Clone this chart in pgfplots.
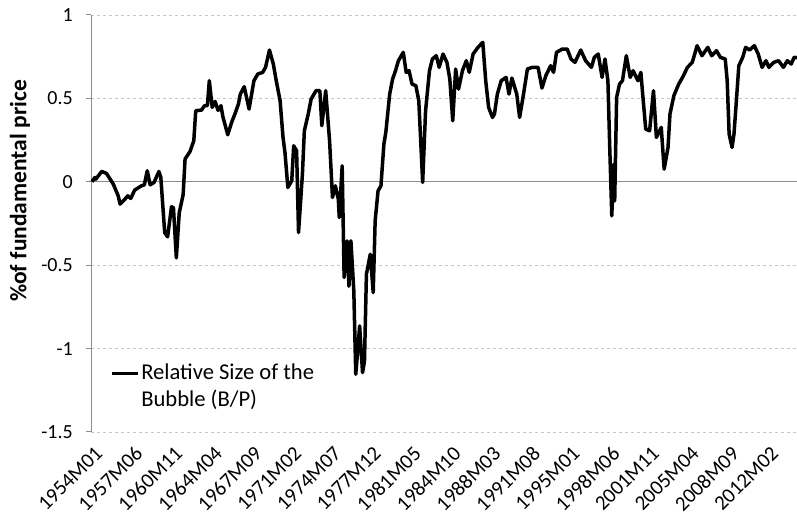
\documentclass[border=0pt]{standalone}
\usepackage{pgfplots}
\pgfplotsset{compat=1.18}
\usepackage{fontspec}
\setmainfont{Carlito}
\begin{document}
\begin{tikzpicture}
\begin{axis}[
  scale only axis,
  width=706pt, height=417pt,
  at={(91pt,92pt)}, anchor=south west,
  xmin=-1, xmax=727,
  ymin=-1.5, ymax=1,
  axis y line*=left,
  axis x line*=bottom,
  x axis line style={draw=none},
  y axis line style={draw=gray!90, line width=1pt},
  xtick={0,41,82,123,164,205,246,287,328,369,410,451,492,533,574,615,656,697},
  xticklabels={1954M01,1957M06,1960M11,1964M04,1967M09,1971M02,1974M07,1977M12,1981M05,1984M10,1988M03,1991M08,1995M01,1998M06,2001M11,2005M04,2008M09,2012M02},
  xtick style={draw=none},
  xticklabel style={rotate=45, anchor=north east, font=\fontsize{20.8}{24}\selectfont, inner sep=1pt, yshift=-6pt, xshift=-3pt},
  ytick={-1.5,-1,-0.5,0.5,1},
  yticklabels={-1.5,-1,-0.5,0.5,1},
  extra y ticks={0},
  extra y tick labels={0},
  extra y tick style={grid=major, major grid style={solid, draw=gray!90, line width=1pt}},
  ytick style={draw=gray!90, line width=1pt},
  tick align=outside,
  major tick length=5pt,
  yticklabel style={font=\fontsize{20}{24}\selectfont, inner sep=1pt, xshift=-12pt},
  ymajorgrids,
  major grid style={dashed, draw=gray!45, line width=0.8pt, dash pattern=on 3pt off 3pt},
  ylabel={\bfseries \%of fundamental price},
  ylabel style={at={(axis description cs:0,0.578)}, anchor=center, yshift=71pt, font=\fontsize{23.5}{28}\selectfont},
  legend style={draw=none, fill=none, at={(axis description cs:0.027,0.168)}, anchor=north west,
    font=\fontsize{22.6}{27}\selectfont, cells={align=left}, inner sep=0pt},
  legend image code/.code={\draw[black, line width=3pt] (0pt,13pt) -- (26pt,13pt);},
  clip=false,
]
\addplot[black, line width=3.5pt, line join=round] coordinates {
(0,0.0) (3,0.026) (4,0.016) (10,0.062) (15,0.05) (22,-0.014) (27,-0.084) (29,-0.134)
(34,-0.104) (37,-0.084) (40,-0.10) (44,-0.05) (51,-0.024) (54,-0.018) (57,0.066) (60,-0.018)
(64,-0.004) (69,0.062) (71,0.026) (75,-0.305) (78,-0.33) (82,-0.15) (84,-0.155) (87,-0.456)
(90,-0.185) (94,-0.078) (96,0.137) (101,0.18) (105,0.246) (107,0.426) (113,0.43) (116,0.456)
(119,0.456) (121,0.606) (124,0.446) (127,0.482) (130,0.428) (133,0.456) (135,0.39) (140,0.282)
(144,0.356) (148,0.416) (151,0.466) (153,0.526) (157,0.57) (162,0.436) (167,0.606) (171,0.646)
(176,0.656) (179,0.686) (183,0.79) (187,0.706) (190,0.606) (194,0.486) (197,0.266) (199,0.176)
(200,0.106) (202,-0.034) (206,0.006) (208,0.216) (211,0.186) (213,-0.304) (217,0.046) (219,0.306)
(223,0.406) (226,0.496) (231,0.546) (235,0.546) (237,0.336) (241,0.546) (245,0.246) (248,-0.094)
(251,-0.024) (254,-0.104) (255,-0.214) (258,0.096) (260,-0.574) (263,-0.354) (265,-0.626) (267,-0.354)
(270,-0.654) (272,-1.154) (274,-1.014) (276,-0.864) (279,-1.144) (281,-1.074) (283,-0.554) (287,-0.434)
(290,-0.664) (292,-0.234) (295,-0.054) (298,-0.024) (301,0.226) (303,0.296) (307,0.526) (310,0.616)
(313,0.666) (316,0.726) (321,0.776) (324,0.656) (327,0.666) (330,0.586) (334,0.576) (337,0.486)
(341,-0.004) (344,0.426) (348,0.666) (351,0.736) (355,0.756) (358,0.686) (362,0.766) (366,0.716)
(369,0.616) (372,0.366) (375,0.676) (378,0.556) (382,0.666) (386,0.726) (389,0.656) (393,0.766)
(398,0.806) (403,0.836) (406,0.606) (409,0.446) (413,0.386) (415,0.406) (418,0.526) (422,0.606)
(427,0.626) (430,0.526) (433,0.622) (438,0.526) (441,0.386) (445,0.526) (449,0.676) (454,0.686)
(460,0.686) (464,0.562) (468,0.636) (473,0.696) (476,0.656) (479,0.776) (485,0.796) (490,0.796)
(494,0.736) (498,0.716) (504,0.79) (509,0.726) (515,0.686) (518,0.746) (522,0.766) (526,0.626)
(529,0.736) (532,0.606) (534,0.186) (536,-0.204) (538,0.106) (539,-0.114) (541,0.506) (544,0.586)
(547,0.606) (551,0.756) (555,0.626) (558,0.666) (563,0.606) (566,0.656) (568,0.516) (571,0.316)
(575,0.306) (579,0.546) (582,0.266) (587,0.326) (590,0.076) (594,0.206) (596,0.406) (600,0.516)
(605,0.586) (609,0.626) (614,0.686) (619,0.716) (624,0.816) (629,0.756) (635,0.806) (639,0.756)
(644,0.786) (648,0.746) (653,0.736) (655,0.606) (657,0.286) (660,0.206) (662,0.286) (664,0.446)
(667,0.696) (671,0.746) (674,0.806) (678,0.79) (683,0.816) (687,0.766) (691,0.686) (695,0.726)
(698,0.686) (703,0.716) (708,0.726) (713,0.686) (717,0.726) (721,0.706) (724,0.746) (727,0.744)
};
\addlegendentry{Relative Size of the\\Bubble (B/P)}
\end{axis}
\pgfresetboundingbox
\path (0,0) rectangle (797pt,524pt);
\end{tikzpicture}
\end{document}
